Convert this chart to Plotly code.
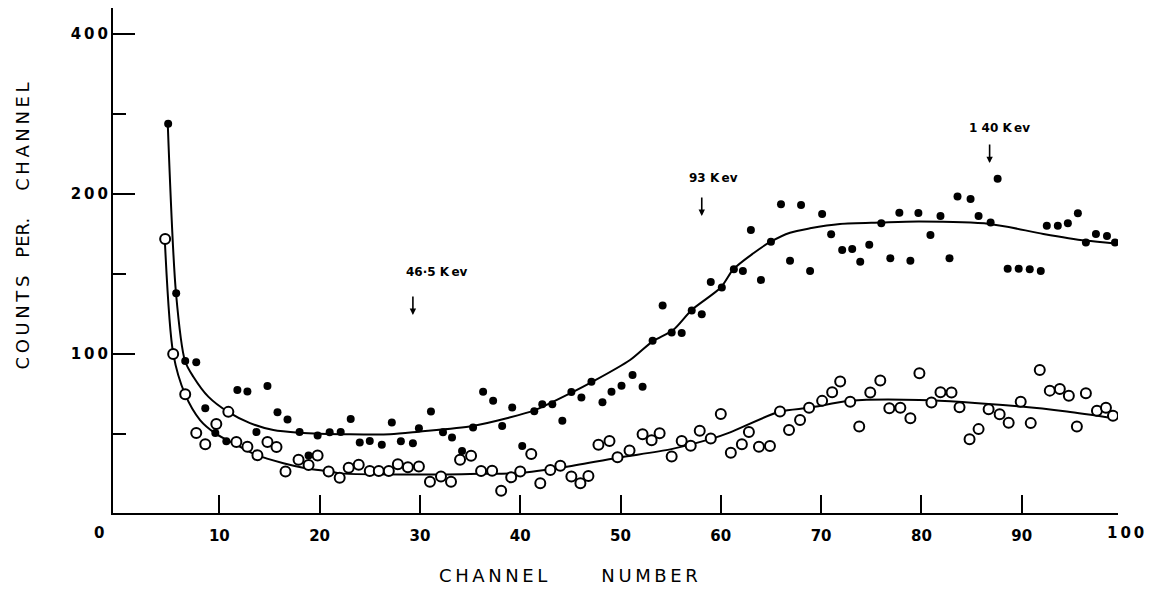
import math
import plotly.graph_objects as go

# ---- data ----
filled_ch = [4.9, 5.7, 6.6, 7.7, 8.6, 9.6, 10.7, 11.8, 12.8, 13.7,
             14.8, 15.8, 16.8, 18.0, 18.9, 19.8, 21.0, 22.1, 23.1, 24.0,
             25.0, 26.2, 27.2, 28.1, 29.3, 29.9, 31.1, 32.3, 33.2, 34.2,
             35.3, 36.3, 37.3, 38.2, 39.2, 40.2, 41.4, 42.2, 43.2, 44.2,
             45.1, 46.1, 47.1, 48.2, 49.1, 50.1, 51.2, 52.2, 53.2, 54.2,
             55.1, 56.1, 57.1, 58.1, 59.0, 60.1, 61.3, 62.2, 63.0, 64.0,
             65.0, 66.0, 66.9, 68.0, 68.9, 70.1, 71.0, 72.1, 73.1, 73.9,
             74.8, 76.0, 76.9, 77.8, 78.9, 79.7, 80.9, 81.9, 82.8, 83.6,
             84.9, 85.7, 86.9, 87.6, 88.6, 89.7, 90.8, 91.9, 92.5, 93.6,
             94.6, 95.6, 96.4, 97.4, 98.5, 99.3]
filled_counts = [271, 130, 97, 96.5, 79, 71, 68.5, 85.5, 85, 71.3,
                 87, 77.7, 75.3, 71.3, 64.4, 70.2, 71.2, 71.3, 75.4, 68.1,
                 68.6, 67.5, 74.3, 68.5, 67.9, 72.5, 77.9, 71.2, 69.6, 65.7,
                 72.7, 84.9, 81.6, 73.2, 79.3, 67.1, 78, 80.4, 80.4, 74.9,
                 84.8, 82.8, 88.6, 81.1, 84.9, 87.1, 91.3, 86.7, 105.9, 123.4,
                 109.7, 109.5, 120.7, 118.8, 136.6, 133.4, 144.3, 143.3, 171.1, 137.8,
                 162.5, 191.2, 149.8, 190.7, 143.3, 183.4, 167.9, 156.9, 157.6, 149.1,
                 160.4, 176.1, 151.4, 184.4, 149.8, 184.2, 167.4, 181.8, 151.4, 197.7,
                 195.6, 181.8, 176.7, 213.6, 144.6, 144.6, 144.3, 143.3, 174.3, 174.3,
                 176.1, 183.9, 162, 168.2, 166.7, 162]

open_ch = [4.6, 5.4, 6.6, 7.7, 8.6, 9.7, 10.9, 11.7, 12.8, 13.8,
           14.8, 15.7, 16.6, 17.9, 18.9, 19.8, 20.9, 22.0, 22.9, 23.9,
           25.0, 25.9, 26.9, 27.8, 28.8, 29.9, 31.0, 32.1, 33.1, 34.0,
           35.1, 36.1, 37.2, 38.1, 39.1, 40.0, 41.1, 42.0, 43.0, 44.0,
           45.1, 46.0, 46.8, 47.8, 48.9, 49.7, 50.9, 52.2, 53.1, 53.9,
           55.1, 56.1, 57.0, 57.9, 59.0, 60.0, 61.0, 62.1, 62.8, 63.8,
           64.9, 65.9, 66.8, 67.9, 68.8, 70.1, 71.1, 71.9, 72.9, 73.8,
           74.9, 75.9, 76.8, 77.9, 78.9, 79.8, 81.0, 81.9, 83.0, 83.8,
           84.8, 85.7, 86.7, 87.8, 88.7, 89.9, 90.9, 91.8, 92.8, 93.8,
           94.7, 95.5, 96.4, 97.5, 98.4, 99.1]
open_counts = [164.6, 100, 84, 71, 67.6, 73.8, 77.8, 68.3, 66.9, 64.5,
               68.3, 66.8, 60.1, 63.2, 61.8, 64.4, 60.1, 58.5, 61.1, 61.9,
               60.2, 60.2, 60.2, 62, 61.2, 61.4, 57.5, 58.8, 57.5, 63.2,
               64.3, 60.2, 60.3, 55.3, 58.6, 60.1, 64.8, 57.1, 60.5, 61.6,
               58.8, 57.1, 58.9, 67.5, 68.6, 63.9, 65.8, 70.6, 68.8, 70.9,
               64.1, 68.6, 67.2, 71.7, 69.3, 77.1, 65.2, 67.6, 71.3, 66.9,
               67.1, 77.9, 71.9, 75.1, 79.2, 81.6, 84.7, 88.7, 81.3, 73,
               84.6, 89.1, 79, 79.2, 75.7, 92, 81, 84.7, 84.6, 79.4,
               69.1, 72.2, 78.7, 77, 74.2, 81.3, 74.1, 93.3, 85.3, 85.9,
               83.4, 73, 84.3, 78.2, 79.2, 76.5]

top_fit_ch = [4.86, 5.68, 6.58, 7.41, 8.90, 10.91, 13.06, 15.39, 17.95, 23.03,
              27.02, 29.91, 35.26, 38.66, 41.38, 45.13, 47.13, 50.95, 53.17, 55.26,
              57.10, 60.02, 61.25, 63.25, 64.97, 66.90, 68.89, 71.88, 75.98, 79.81,
              86.79, 92.16, 96.38, 99.30]
top_fit_val = [270.8, 130.2, 97.0, 90.6, 83.1, 77.7, 74.1, 71.9, 71.1, 70.6,
               70.6, 71.4, 73.2, 75.7, 78.3, 84.6, 88.5, 97.4, 105.5, 111.0,
               121.0, 133.5, 144.3, 154.7, 162.6, 169.1, 172.3, 175.6, 176.7, 177.4,
               175.6, 168.2, 163.4, 161.4]

bot_fit_ch = [4.56, 5.41, 6.58, 8.08, 9.60, 11.73, 13.73, 16.39, 18.72, 21.05,
              22.04, 29.91, 35.99, 39.98, 44.30, 49.73, 55.07, 59.03, 60.93, 65.90,
              68.83, 72.88, 79.80, 89.93, 94.49, 99.14]
bot_fit_val = [164.6, 100, 84.0, 75.1, 70.9, 67.4, 64.5, 62.3, 60.9, 60.1,
               59.6, 59.3, 59.5, 59.7, 61.2, 63.8, 66.2, 69.2, 71.2, 77.9,
               79.2, 81.6, 81.9, 79.6, 77.9, 75.7]

x_tick_vals = [10, 20, 30, 40, 50, 60, 70, 80, 90]
x_tick_text = ["10", "20", "30", "40", "50", "60", "70", "80", "90"]
y_tick_vals = [100, 200, 400]
y_tick_text = ["1\u20090\u20090", "2\u20090\u20090", "4\u20090\u20090"]
y_minor_vals = [70.71, 141.42, 282.84]

energy_labels = ["46\u00b75 K\u2009ev", "93 K\u2009ev", "1 40 K\u2009ev"]
energy_channels = [29.3, 58.1, 86.8]
energy_arrow_tip = [118.4, 181.8, 228.6]
energy_label_ch = [31.7, 59.3, 87.8]
energy_label_val = [142.8, 214.6, 266.0]

FONT = "DejaVu Sans"
thin = "\u2009"

fig = go.Figure()

fig.add_trace(go.Scatter(x=top_fit_ch, y=top_fit_val, mode="lines",
                         line=dict(color="black", width=2, shape="spline", smoothing=0.8),
                         hoverinfo="skip", showlegend=False))
fig.add_trace(go.Scatter(x=bot_fit_ch, y=bot_fit_val, mode="lines",
                         line=dict(color="black", width=2, shape="spline", smoothing=0.8),
                         hoverinfo="skip", showlegend=False))
fig.add_trace(go.Scatter(x=filled_ch, y=filled_counts, mode="markers",
                         marker=dict(color="black", size=8, symbol="circle"),
                         showlegend=False))
fig.add_trace(go.Scatter(x=open_ch, y=open_counts, mode="markers",
                         marker=dict(color="white", size=10, symbol="circle",
                                     line=dict(color="black", width=2)),
                         showlegend=False))

annotations = []
for lab, ch, tip, lch, lval in zip(energy_labels, energy_channels, energy_arrow_tip,
                                   energy_label_ch, energy_label_val):
    annotations.append(dict(x=ch, y=math.log10(tip), xref="x", yref="y", text="",
                            showarrow=True, arrowhead=2, arrowsize=0.8, arrowwidth=1.6,
                            arrowcolor="black", ax=0, ay=-20))
    annotations.append(dict(x=lch, y=math.log10(lval), xref="x", yref="y", text=lab,
                            showarrow=False, font=dict(family=FONT, size=12, color="black",
                                                       weight="bold")))

annotations.append(dict(x=-0.0139, y=-0.0396, xref="paper", yref="paper", text="0",
                        showarrow=False, xanchor="center", yanchor="middle",
                        font=dict(family=FONT, size=15, color="black", weight="bold")))
annotations.append(dict(x=1.007, y=-0.0396, xref="paper", yref="paper",
                        text="1" + thin + "0" + thin + "0",
                        showarrow=False, xanchor="center", yanchor="middle",
                        font=dict(family=FONT, size=15, color="black", weight="bold")))

def spaced(word):
    return thin.join(list(word))

x_title = spaced("CHANNEL") + "\u2003\u2003\u2003" + spaced("NUMBER")
y_title = spaced("COUNTS") + "\u2003" + "PER." + "\u2003\u2002" + spaced("CHANNEL")

annotations.append(dict(x=0.453, y=-0.1228, xref="paper", yref="paper", text=x_title,
                        showarrow=False, xanchor="center", yanchor="middle",
                        font=dict(family=FONT, size=18, color="black")))
annotations.append(dict(x=-0.0896, y=0.5693, xref="paper", yref="paper", text=y_title,
                        showarrow=False, xanchor="center", yanchor="middle", textangle=-90,
                        font=dict(family=FONT, size=18, color="black")))

# the page places the figure 8 px in from the top-left corner
fig.update_layout(
    width=1147, height=581, autosize=False,
    margin=dict(l=105, r=37, t=0, b=76),
    plot_bgcolor="white", paper_bgcolor="white",
    annotations=annotations,
    xaxis=dict(range=[-0.6, 99.6], showgrid=False, zeroline=False,
               showline=True, linecolor="black", linewidth=2,
               tickvals=x_tick_vals, ticktext=x_tick_text,
               ticks="inside", ticklen=18, tickwidth=2, tickcolor="black",
               ticklabelstandoff=8,
               tickfont=dict(family=FONT, size=15, color="black", weight="bold")),
    yaxis=dict(type="log", range=[math.log10(50.2), math.log10(447.6)],
               showgrid=False, zeroline=False,
               showline=True, linecolor="black", linewidth=2,
               tickvals=y_tick_vals, ticktext=y_tick_text,
               ticks="inside", ticklen=22, tickwidth=2, tickcolor="black",
               tickfont=dict(family=FONT, size=15, color="black", weight="bold"),
               minor=dict(tickvals=y_minor_vals, ticks="inside", ticklen=13,
                          tickwidth=2, tickcolor="black", showgrid=False)),
)

fig.write_html("out.html")
